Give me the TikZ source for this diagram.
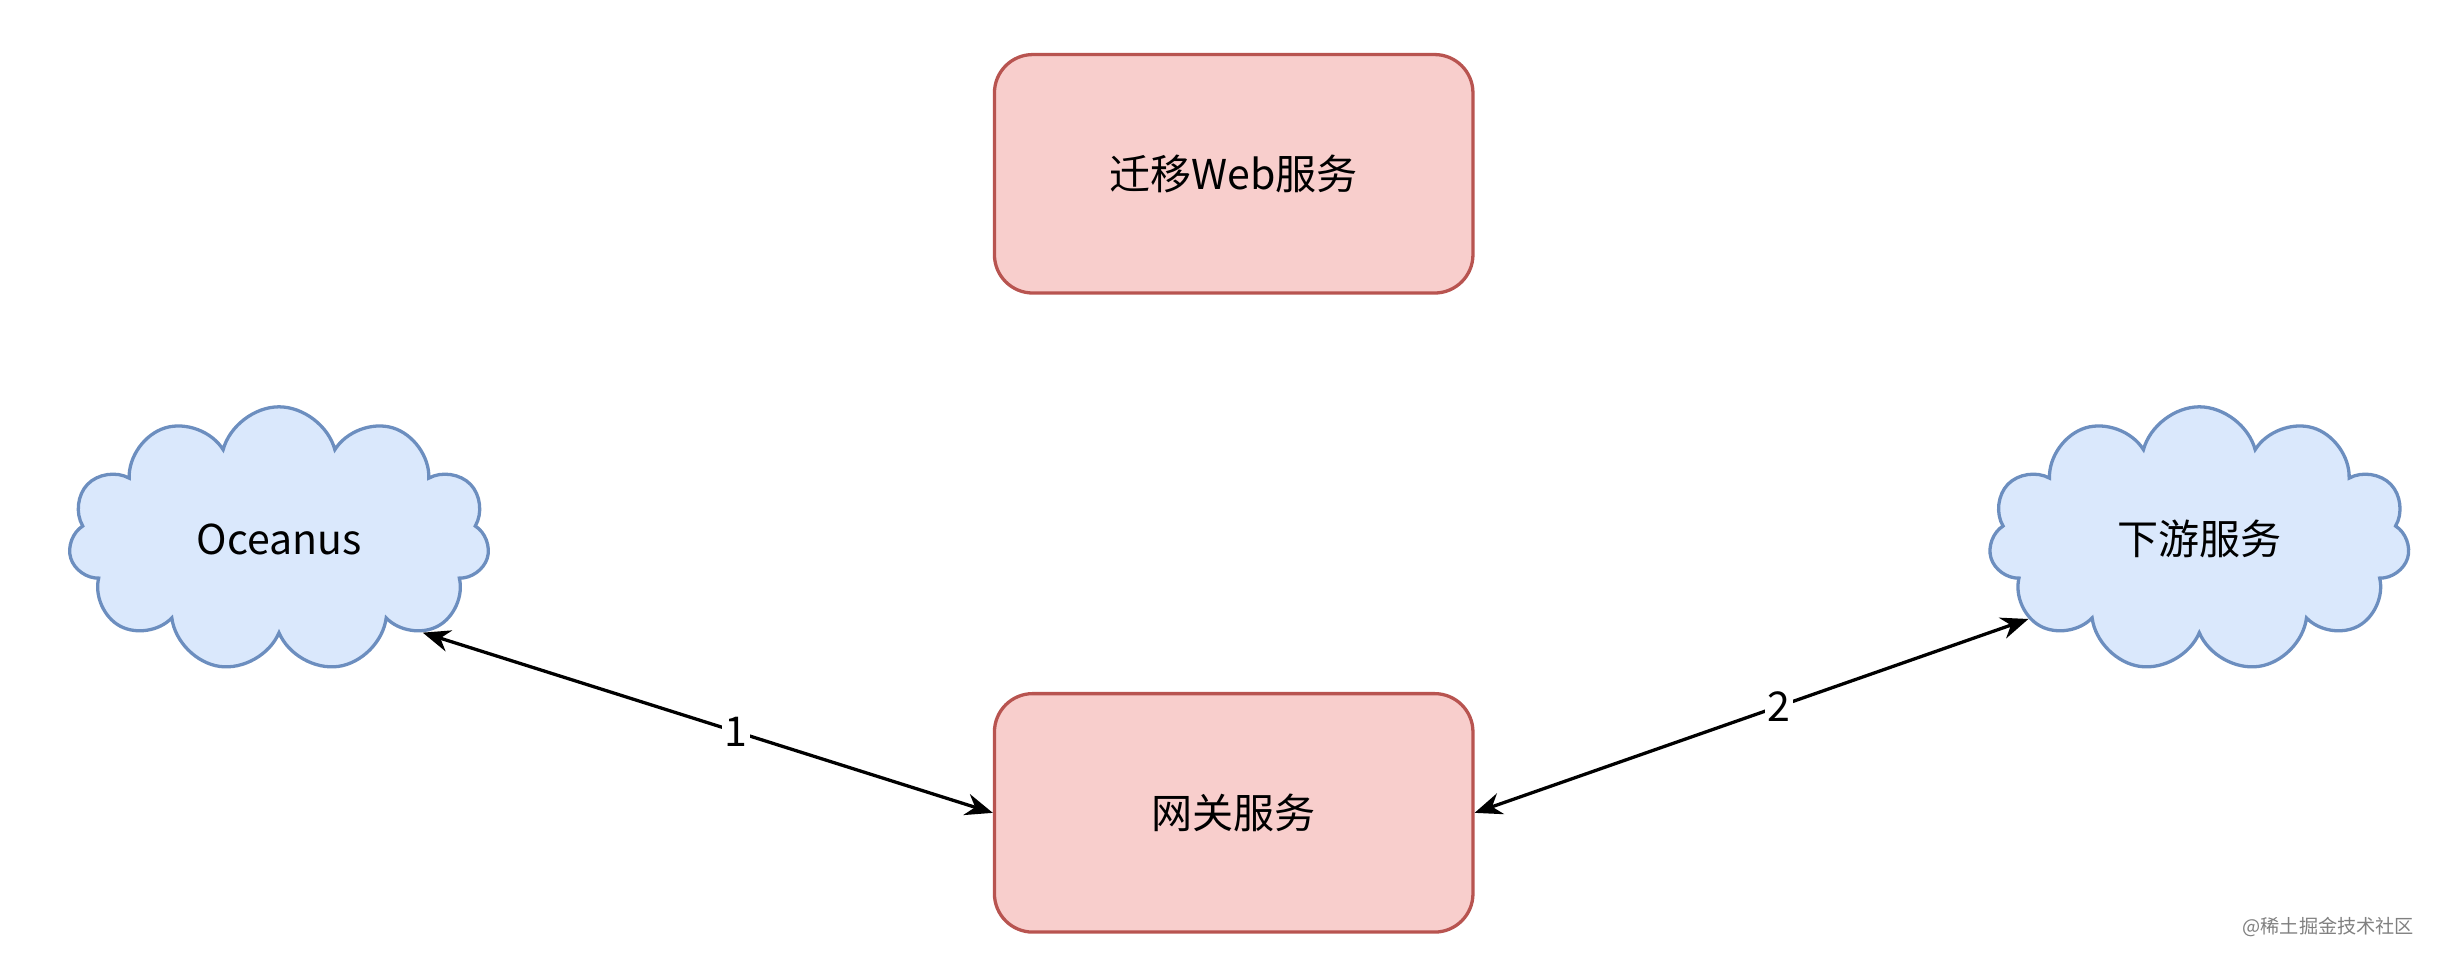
\documentclass[tikz,border=0pt]{standalone}
\usepackage{fontspec}
\setmainfont{Noto Sans CJK SC}
\usetikzlibrary{shapes.symbols,arrows.meta}
\definecolor{redfill}{HTML}{F8CECC}
\definecolor{reddraw}{HTML}{B85450}
\definecolor{bluefill}{HTML}{DAE8FC}
\definecolor{bluedraw}{HTML}{6C8EBF}
\tikzset{
  svcbox/.style={draw=reddraw,fill=redfill,line width=1.2pt,rounded corners=14pt,
    minimum width=6.14cm,minimum height=3.06cm,font=\fontsize{15}{18}\selectfont},
  svccloud/.style={cloud,cloud puffs=11,aspect=1.6,draw=bluedraw,fill=bluefill,line width=1.2pt,
    minimum width=5.4cm,minimum height=3.4cm,inner sep=0pt,font=\fontsize{15}{18}\selectfont},
  link/.style={{Stealth[length=10pt,width=8pt]}-{Stealth[length=10pt,width=8pt]},line width=1.2pt},
  linklabel/.style={fill=white,inner sep=1pt,font=\fontsize{15}{18}\selectfont}
}
\begin{document}
\begin{tikzpicture}
  \useasboundingbox (0,0) rectangle (31.36,-12.36);

  \node[svcbox] (web) at (15.83,-2.23) {迁移Web服务};
  \node[svcbox] (gw) at (15.83,-10.43) {网关服务};
  \node[svccloud] (oc) at (3.58,-6.92) {Oceanus};
  \node[svccloud] (down) at (28.22,-6.92) {下游服务};

  \draw[link] (oc.-33) -- node[linklabel,pos=0.55] {1} (gw.west);
  \draw[link] (gw.east) -- node[linklabel,pos=0.55] {2} (down.205);

  \node[text=gray,font=\fontsize{7}{8}\selectfont,anchor=east] (mark) at (31.1,-11.9) {@稀土掘金技术社区};
\end{tikzpicture}
\end{document}
